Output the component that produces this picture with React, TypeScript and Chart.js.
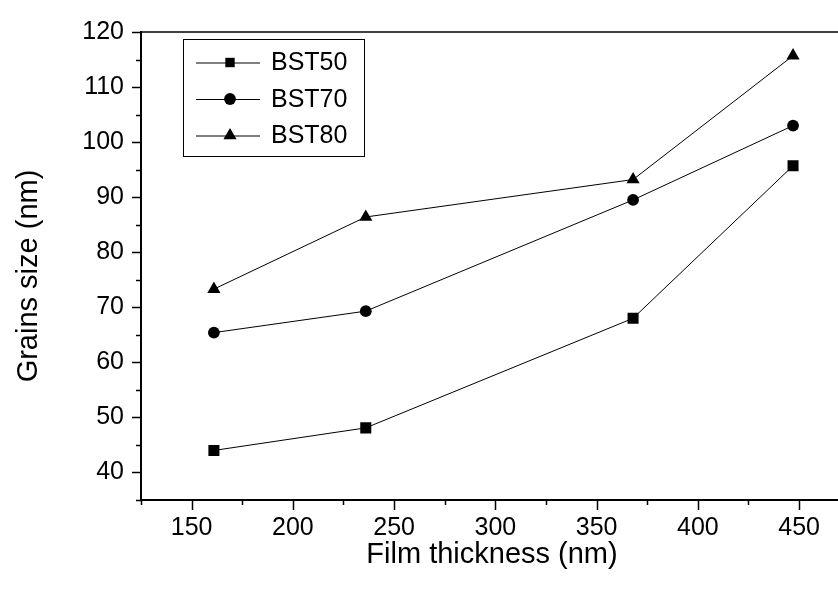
import React, { useEffect, useRef } from 'react';
import { Chart, registerables } from 'chart.js';

Chart.register(...registerables);

// ---- data ----
const thickness = [161, 236, 368, 447];
const bst50 = [44.0, 48.1, 68.0, 95.7];
const bst70 = [65.4, 69.3, 89.5, 103.0];
const bst80 = [73.3, 86.4, 93.2, 115.7];
const seriesNames = ['BST50', 'BST70', 'BST80'];
const xTickLabels = [150, 200, 250, 300, 350, 400, 450];
const yTickLabels = [40, 50, 60, 70, 80, 90, 100, 110, 120];
const xTitle = 'Film thickness (nm)';
const yTitle = 'Grains size (nm)';

const FONT = '"Liberation Sans", Arial, Helvetica, sans-serif';

const markerStyles = ['rect', 'circle', 'triangle'];
const markerRadius = [7.8, 5.9, 7.6];

function drawMarker(ctx: CanvasRenderingContext2D, style: string, x: number, y: number, r: number) {
  ctx.beginPath();
  if (style === 'rect') {
    const s = Math.SQRT1_2 * r;
    ctx.rect(x - s, y - s, 2 * s, 2 * s);
  } else if (style === 'circle') {
    ctx.arc(x, y, r, 0, Math.PI * 2);
  } else {
    let rad = 0;
    ctx.moveTo(x + Math.sin(rad) * r, y - Math.cos(rad) * r);
    rad += (2 * Math.PI) / 3;
    ctx.lineTo(x + Math.sin(rad) * r, y - Math.cos(rad) * r);
    rad += (2 * Math.PI) / 3;
    ctx.lineTo(x + Math.sin(rad) * r, y - Math.cos(rad) * r);
    ctx.closePath();
  }
  ctx.fill();
}

const frameAndTicks = {
  id: 'frameAndTicks',
  afterDraw(chart: any) {
    const { ctx, chartArea, scales } = chart;
    const xs = scales.x;
    const ys = scales.y;
    ctx.save();
    ctx.strokeStyle = '#000';
    ctx.lineWidth = 1.5;
    // top frame line
    ctx.beginPath();
    ctx.moveTo(chartArea.left, chartArea.top);
    ctx.lineTo(chartArea.right + 20, chartArea.top);
    ctx.stroke();
    // x ticks (major + minor)
    for (let v = xs.min; v <= xs.max + 1e-6; v += 25) {
      const px = Math.round(xs.getPixelForValue(v)) + 0.5;
      const len = v % 50 === 0 ? 10 : 5;
      ctx.beginPath();
      ctx.moveTo(px, chartArea.bottom);
      ctx.lineTo(px, chartArea.bottom + len);
      ctx.stroke();
    }
    // y ticks (major + minor)
    for (let v = ys.min; v <= ys.max + 1e-6; v += 5) {
      const py = Math.round(ys.getPixelForValue(v)) + 0.5;
      const len = v % 10 === 0 ? 9 : 5;
      ctx.beginPath();
      ctx.moveTo(chartArea.left - len, py);
      ctx.lineTo(chartArea.left, py);
      ctx.stroke();
    }
    // extend bottom axis to the edge
    ctx.lineWidth = 2;
    ctx.beginPath();
    ctx.moveTo(chartArea.left, chartArea.bottom);
    ctx.lineTo(chartArea.right + 20, chartArea.bottom);
    ctx.stroke();
    // axis titles
    ctx.fillStyle = '#000';
    ctx.font = `29px ${FONT}`;
    ctx.textAlign = 'center';
    ctx.textBaseline = 'middle';
    ctx.fillText(xTitle, 492, 555);
    ctx.save();
    ctx.translate(37, 276);
    ctx.rotate(-Math.PI / 2);
    ctx.textBaseline = 'alphabetic';
    ctx.fillText(yTitle, 0, 0);
    ctx.restore();
    // legend box
    const bx = 183.5, by = 39.5, bw = 181, bh = 117;
    ctx.lineWidth = 1;
    ctx.strokeRect(bx, by, bw, bh);
    const rows = [62.5, 99, 135.5];
    ctx.font = `25px ${FONT}`;
    ctx.textBaseline = 'middle';
    ctx.textAlign = 'left';
    seriesNames.forEach((name, i) => {
      const yy = rows[i];
      ctx.beginPath();
      ctx.moveTo(196, yy + 0.5);
      ctx.lineTo(260, yy + 0.5);
      ctx.stroke();
      drawMarker(ctx, markerStyles[i], 230, yy, markerRadius[i] * (i === 0 ? 0.85 : 1));
      ctx.fillText(name, 271, yy + 1);
    });
    ctx.restore();
  },
};

export default function App() {
  const ref = useRef<HTMLCanvasElement | null>(null);

  useEffect(() => {
    if (!ref.current) return;
    const series = [bst50, bst70, bst80];
    const chart = new Chart(ref.current, {
      type: 'line',
      data: {
        datasets: series.map((vals, i) => ({
          label: seriesNames[i],
          data: thickness.map((t, j) => ({ x: t, y: vals[j] })),
          borderColor: '#000',
          backgroundColor: '#000',
          borderWidth: 1,
          pointStyle: markerStyles[i] as any,
          pointRadius: markerRadius[i],
          pointBorderWidth: 0,
          pointBackgroundColor: '#000',
          tension: 0,
          fill: false,
        })),
      },
      options: {
        animation: false,
        responsive: false,
        devicePixelRatio: 1,
        layout: { padding: { top: 24, left: 0, right: 0, bottom: 0 } },
        plugins: {
          legend: { display: false },
          tooltip: { enabled: false },
        },
        scales: {
          x: {
            type: 'linear',
            min: 125,
            max: 469.3,
            afterFit: (s: any) => { s.height = 90; },
            afterBuildTicks: (s: any) => { s.ticks = xTickLabels.map((v) => ({ value: v })); },
            grid: { display: false, drawTicks: false },
            border: { display: true, color: '#000', width: 2 },
            ticks: {
              autoSkip: false,
              maxRotation: 0,
              padding: 13,
              color: '#000',
              font: { family: FONT, size: 25 },
              callback: (v: any) => String(v),
            },
            title: { display: false },
          },
          y: {
            type: 'linear',
            min: 35,
            max: 120,
            afterFit: (s: any) => { s.width = 141; },
            afterBuildTicks: (s: any) => { s.ticks = yTickLabels.map((v) => ({ value: v })); },
            grid: { display: false, drawTicks: false },
            border: { display: true, color: '#000', width: 2 },
            ticks: {
              autoSkip: false,
              padding: 17,
              color: '#000',
              font: { family: FONT, size: 25 },
              callback: (v: any) => String(v),
            },
            title: { display: false },
          },
        },
      },
      plugins: [frameAndTicks],
    });
    return () => chart.destroy();
  }, []);

  return (
    <div style={{ position: 'fixed', left: 0, top: 0, width: 838, height: 590, overflow: 'hidden', background: '#fff' }}>
      <canvas ref={ref} width={846} height={590} style={{ display: 'block' }} />
    </div>
  );
}
